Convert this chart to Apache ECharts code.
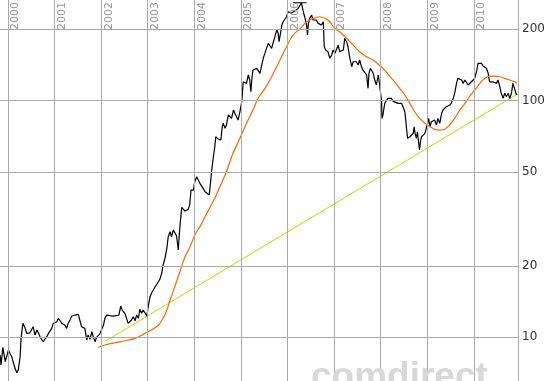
<!DOCTYPE html>
<html>
<head>
<meta charset="utf-8">
<script src="https://cdn.jsdelivr.net/npm/echarts@6/dist/echarts.min.js"></script>
<style>
html,body{margin:0;padding:0;background:#fff;}
#chart{width:553px;height:381px;}
</style>
</head>
<body>
<div id="chart"></div>
<script>
// ---- data ----
const yearLabels = [2000,2001,2002,2003,2004,2005,2006,2007,2008,2009,2010];
const valueTicks = [10,20,50,100,200];

const priceDates = [1999.83,1999.85,1999.89,1999.94,2000.01,2000.04,2000.08,2000.11,2000.15,2000.19,2000.22,2000.26,2000.28,2000.32,2000.34,2000.37,2000.40,2000.44,2000.47,2000.51,2000.54,2000.58,2000.62,2000.65,2000.69,2000.72,2000.76,2000.79,2000.83,2000.87,2000.90,2000.94,2000.97,2001.01,2001.05,2001.08,2001.12,2001.15,2001.19,2001.22,2001.26,2001.29,2001.33,2001.37,2001.44,2001.51,2001.55,2001.58,2001.62,2001.65,2001.69,2001.72,2001.76,2001.80,2001.83,2001.87,2001.90,2001.97,2002.01,2002.05,2002.08,2002.12,2002.15,2002.19,2002.26,2002.33,2002.38,2002.42,2002.45,2002.48,2002.51,2002.55,2002.58,2002.62,2002.65,2002.69,2002.73,2002.76,2002.80,2002.83,2002.87,2002.90,2002.94,2002.98,2003.01,2003.05,2003.08,2003.12,2003.16,2003.19,2003.23,2003.26,2003.30,2003.33,2003.37,2003.41,2003.44,2003.48,2003.51,2003.55,2003.58,2003.62,2003.655,2003.67,2003.69,2003.73,2003.76,2003.80,2003.83,2003.87,2003.90,2003.93,2003.94,2003.98,2004.01,2004.05,2004.08,2004.12,2004.16,2004.19,2004.23,2004.26,2004.32,2004.35,2004.37,2004.41,2004.44,2004.46,2004.51,2004.57,2004.60,2004.62,2004.66,2004.69,2004.73,2004.76,2004.80,2004.84,2004.87,2004.91,2004.94,2004.98,2005.02,2005.05,2005.09,2005.12,2005.16,2005.19,2005.215,2005.24,2005.26,2005.30,2005.34,2005.37,2005.41,2005.44,2005.48,2005.515,2005.55,2005.59,2005.62,2005.66,2005.69,2005.73,2005.77,2005.80,2005.82,2005.85,2005.88,2005.91,2005.94,2005.98,2006.015,2006.05,2006.09,2006.12,2006.16,2006.195,2006.23,2006.27,2006.30,2006.34,2006.37,2006.41,2006.43,2006.45,2006.48,2006.52,2006.55,2006.59,2006.62,2006.66,2006.70,2006.73,2006.77,2006.79,2006.82,2006.84,2006.87,2006.91,2006.95,2006.98,2007.02,2007.05,2007.09,2007.12,2007.16,2007.20,2007.23,2007.27,2007.30,2007.34,2007.38,2007.41,2007.45,2007.48,2007.52,2007.55,2007.59,2007.62,2007.66,2007.70,2007.73,2007.75,2007.78,2007.80,2007.84,2007.875,2007.91,2007.95,2007.98,2008.00,2008.02,2008.03,2008.05,2008.09,2008.13,2008.16,2008.20,2008.23,2008.27,2008.30,2008.375,2008.41,2008.45,2008.48,2008.52,2008.54,2008.56,2008.58,2008.60,2008.63,2008.66,2008.70,2008.72,2008.74,2008.77,2008.79,2008.81,2008.835,2008.86,2008.88,2008.91,2008.95,2008.985,2009.01,2009.03,2009.06,2009.09,2009.13,2009.16,2009.20,2009.23,2009.27,2009.31,2009.34,2009.38,2009.41,2009.45,2009.485,2009.52,2009.56,2009.59,2009.63,2009.66,2009.70,2009.74,2009.77,2009.81,2009.84,2009.88,2009.91,2009.95,2009.985,2010.02,2010.06,2010.09,2010.13,2010.165,2010.20,2010.24,2010.27,2010.31,2010.34,2010.38,2010.41,2010.45,2010.49,2010.52,2010.56,2010.59,2010.63,2010.665,2010.70,2010.74,2010.77,2010.81,2010.84,2010.88,2010.92];
const priceValues = [8.42,7.64,9.07,7.89,8.84,8.56,8.28,7.89,7.40,7.09,7.28,8.28,9.90,11.46,11.53,10.91,10.39,10.23,10.45,10.32,11.08,10.23,10.74,10.45,10.06,9.81,9.58,9.81,10.06,10.39,10.56,10.91,11.46,11.27,11.64,12.03,11.75,11.46,11.64,11.27,10.91,11.46,11.83,12.30,12.42,12.51,12.51,11.08,11.27,10.91,9.74,10.23,9.81,10.56,10.06,9.58,10.0,10.32,10.39,11.27,12.03,12.42,12.22,12.34,12.30,12.34,12.42,13.56,13.04,13.13,12.63,12.42,11.46,11.38,11.83,12.22,11.75,12.42,12.03,13.13,12.63,13.04,12.70,12.30,13.47,14.84,15.34,15.84,16.36,16.36,17.17,17.58,18.63,20.20,21.56,23.76,26.60,27.92,26.60,28.39,27.92,26.78,23.37,25.76,29.32,35.40,35.06,34.15,34.72,34.72,36.20,41.88,42.57,41.88,45.41,47.67,47.67,44.70,44.70,42.57,41.2,41.2,39.90,45.41,50.04,57.90,63.81,70.33,68.76,68.11,77.52,80.12,76.31,78.80,86.85,85.45,84.10,91.18,88.31,88.31,82.73,89.68,99.2,120.0,122.1,118.2,128.2,122.1,109.0,126.0,134.5,132.3,136.8,134.5,130.3,138.9,150.8,158.2,166.1,174.4,171.5,166.1,174.4,186.0,198.5,192.2,177.2,192.2,208.4,215.1,218.8,225.9,237.1,241.1,234.2,234.2,238.7,237.1,245.1,249.0,258.8,237.1,225.9,208.4,189.1,211.8,222.4,229.6,218.8,215.1,218.8,211.8,215.1,208.4,215.1,168.7,163.4,166.1,160.7,150.8,155.7,163.4,158.2,160.7,171.5,160.7,158.2,163.4,183.1,177.2,168.7,150.8,138.9,145.8,143.6,145.8,141.3,148.3,138.9,134.5,132.3,128.2,112.6,130.3,136.8,134.5,130.3,122.1,116.3,128.2,116.3,114.4,99.2,84.10,86.85,97.6,99.2,102.2,103.2,102.2,99.2,97.6,97.3,95.72,97.3,94.1,89.68,82.73,75.06,69.25,68.11,70.33,69.25,72.7,77.52,72.7,69.25,73.8,68.11,61.8,68.11,70.33,71.50,72.7,73.8,80.12,84.10,77.52,81.37,80.12,82.73,78.80,84.10,80.12,88.31,91.18,89.68,94.1,92.69,95.72,97.6,102.2,107.3,118.2,124.1,126.0,122.1,118.2,122.1,120.0,116.3,118.2,120.0,118.2,124.1,132.3,143.6,141.3,143.6,139.9,138.9,136.8,130.3,120.0,122.1,120.0,122.1,118.2,122.1,114.4,107.3,102.2,107.3,104.0,107.3,102.2,107.3,118.2,116.3,105.5];

const maDates = [2001.94,2002.08,2002.30,2002.51,2002.73,2002.94,2003.08,2003.23,2003.33,2003.41,2003.48,2003.58,2003.69,2003.80,2003.91,2004.01,2004.12,2004.23,2004.44,2004.55,2004.69,2004.83,2004.98,2005.12,2005.26,2005.37,2005.52,2005.66,2005.84,2005.98,2006.12,2006.27,2006.41,2006.55,2006.70,2006.80,2006.91,2007.02,2007.12,2007.27,2007.41,2007.55,2007.70,2007.84,2007.98,2008.09,2008.20,2008.30,2008.41,2008.52,2008.63,2008.73,2008.84,2008.95,2009.06,2009.16,2009.27,2009.38,2009.48,2009.59,2009.70,2009.81,2009.91,2010.02,2010.13,2010.24,2010.34,2010.45,2010.56,2010.66,2010.77,2010.88,2010.92];
const maValues = [9.07,9.28,9.49,9.67,9.90,10.39,10.74,11.27,12.03,13.04,14.37,16.36,18.92,21.90,24.13,27.04,29.32,32.31,38.64,43.25,50.04,59.84,69.25,80.12,91.18,102.2,112.6,126.0,148.3,168.7,189.1,201.0,215.1,222.4,225.9,222.4,215.1,201.0,195.2,183.1,171.5,160.7,153.1,148.3,140.6,134.5,126.3,120.0,112.6,105.5,97.3,89.68,84.10,80.12,77.52,75.58,75.06,75.58,78.80,84.10,91.18,97.3,104.0,110.7,118.2,124.1,126.9,126.9,126.0,124.1,122.1,120.0,118.2];

const trendDates = [2002.08, 2011.70];
const trendValues = [9.60, 131.0];

const highDates = [2006.12, 2006.41];
const highValues = [258.8, 258.8];

// ---- chart ----
const zip = (a, b) => a.map((d, i) => [d, b[i]]);
const chart = echarts.init(document.getElementById('chart'), null, {renderer: 'canvas'});
const gridColor = '#aaaaaa';

chart.setOption({
  animation: false,
  backgroundColor: '#ffffff',
  grid: {left: 0, right: 35, top: 0, bottom: 0, containLabel: false},
  xAxis: {type: 'value', min: 1999.828, max: 2010.95, show: false},
  yAxis: {
    type: 'log', min: 6.54, max: 265.8, position: 'right',
    axisLine: {show: true, lineStyle: {color: gridColor, width: 1}},
    axisTick: {show: false}, axisLabel: {show: false}, splitLine: {show: false}
  },
  graphic: [{
    type: 'text', left: 311, top: 359, z: 50, silent: true,
    style: {text: 'comdirect', fill: '#d8d8d8', font: 'bold 37px "Liberation Sans", Arial, sans-serif'}
  }],
  series: [
    {
      type: 'line', data: [], z: 1, silent: true, symbol: 'none',
      markLine: {
        silent: true, symbol: ['none', 'none'], animation: false,
        lineStyle: {color: gridColor, width: 1, type: 'solid'},
        data: yearLabels.map(y => ({xAxis: y, name: String(y),
          label: {show: true, position: 'insideEndBottom', formatter: '{b}', color: '#999999',
                  fontSize: 11, fontFamily: 'DejaVu Sans', distance: 2}}))
          .concat(valueTicks.map(v => ({yAxis: v, name: String(v),
          label: {show: true, position: 'end', formatter: '{b}', color: '#333333',
                  fontSize: 12, fontFamily: 'DejaVu Sans', distance: 4}})))
      }
    },
    {type: 'line', data: zip(trendDates, trendValues), z: 2, symbol: 'none', clip: false,
     lineStyle: {color: '#b5e000', width: 1}},
    {type: 'line', data: zip(priceDates, priceValues), z: 3, symbol: 'none',
     lineStyle: {color: '#000000', width: 1.2}},
    {type: 'line', data: zip(highDates, highValues), z: 3, symbol: 'none',
     lineStyle: {color: '#000000', width: 1}},
    {type: 'line', data: zip(maDates, maValues), z: 4, symbol: 'none', smooth: 0.3,
     lineStyle: {color: '#ff6600', width: 1.2}}
  ]
});
</script>
</body>
</html>
